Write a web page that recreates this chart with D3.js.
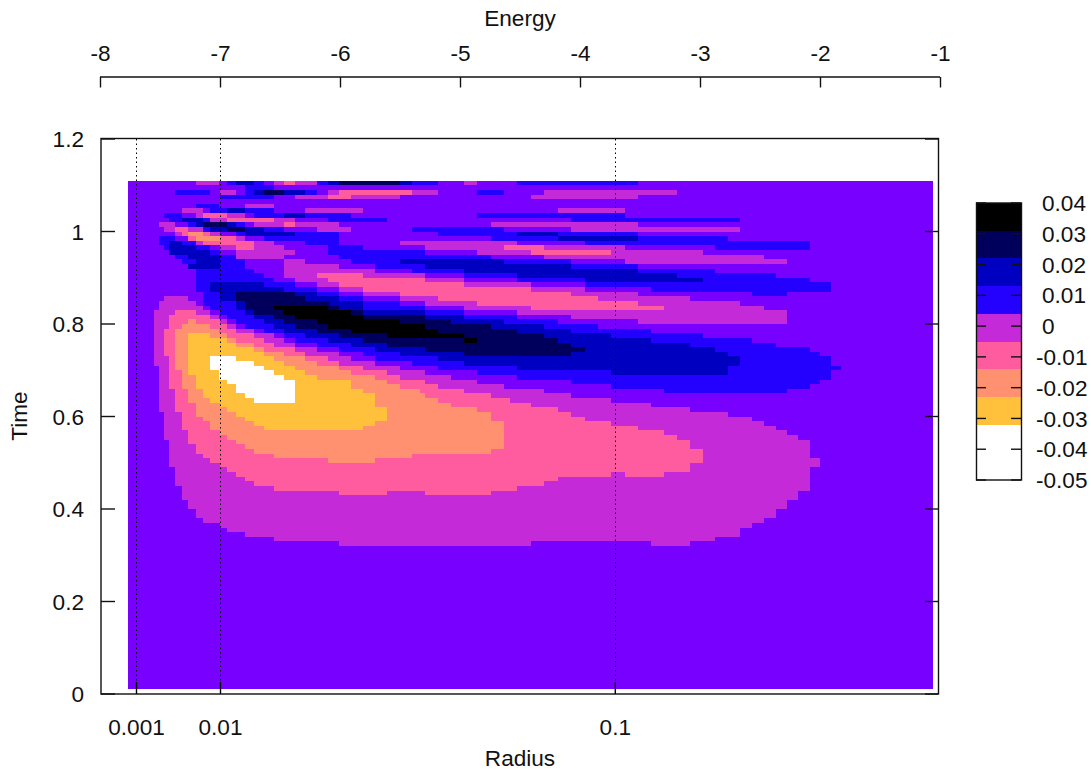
<!DOCTYPE html>
<html><head><meta charset="utf-8">
<script src="https://cdn.jsdelivr.net/npm/d3@7"></script>
<style>html,body{margin:0;background:#fff}svg{display:block}text{font-family:"Liberation Sans",Arial,sans-serif;font-size:22.6px;fill:#111}</style>
</head><body><svg id="c" width="1091" height="769"></svg>
<script>
// tick labels
const energyTicks = [-8,-7,-6,-5,-4,-3,-2,-1];
const timeTicks = [0,0.2,0.4,0.6,0.8,1,1.2];
const radiusLabels = ["0.001","0.01","0.1"];
const radiusEnergy = [-7.7,-7,-3.71];
const barTicks = [0.04,0.03,0.02,0.01,0,-0.01,-0.02,-0.03,-0.04,-0.05];
// colour levels: key, representative value, colour
const levelKeys = ["K","N","B","U","V","P","H","S","Y","W"];
const levelValues = [0.035,0.027,0.018,0.009,0.002,-0.004,-0.013,-0.022,-0.031,-0.04];
const levelColors = ["#000000","#00005c","#0000c0","#2400ff","#7800ff","#c42ad8","#ff5ca0","#ff9070","#ffc03c","#ffffff"];
const barColors = ["#000000","#00005c","#0000c0","#2400ff","#c42ad8","#ff5ca0","#ff9070","#ffc03c","#ffffff","#ffffff"];
// grid of the field
const timeTop = 1.11, timeStep = 0.01, rowCount = 110;
const energyStart = -8, binWidth = 1/120, lastBin = 833, firstBin = 28;
// one row per time step, top down: level key + last energy bin of that level; the rest of each row is V
const rowRuns = [
"V96 P119 V127 U136 B154 U164 V174 P184 H195 P217 U228 B239 N300 B312 U338 V364 P377 V417 U538",
"V145 U174",
"V75 U110 V120 P136 V145 U154 B164 N184 B205 U217 V228 P239 H312 P338 V377 U404 V444 P577",
"V120 U174 V195 P228 H251 P300 V431 P538",
"",
"V96 U119 V145 P174",
"V82 P103 V110 U127 B145 U174 V205 P263 V458 P525",
"V64 U82 V96 P103 H127 P145 V154 U184 B205 U251 V377 U525",
"V69 U82 B103 U110 P127 H174 P195 V228 U287 V471 U640",
"V59 P75 V88 U96 B103 N127 B136 U145 V154 P184 H195 P239 V391 P538",
"V64 P75 H88 P103 U110 B127 N145 B164 U184 V217 P251 V312 U404 V471 P640",
"V75 P82 H88 S103 H110 P120 V136 U145 B195 U239 V338 U417 B458 U538",
"V59 U75 V88 H96 S120 H136 P145 V164 U239 V391 U458 B538 U628",
"V59 U69 B82 U96 P103 H154 P174 V205 U239 V300 P417 V485 U710",
"V64 U69 B96 U110 V120 P136 H154 P184 V228 U263 V325 P404 H444 P525 V615 U710",
"V69 B110 U120 V136 P195 V228 U325 V377 P431 H511 P603",
"V75 U88 B120 U136 P184 V239 U391 V444 P664",
"V82 U96 B120 U145 V184 P205 V251 U300 B404 U471 V525 P687",
"V88 B120 U145 V184 P239 V275 U325 B471 U538",
"V96 U154 V184 P275 V312 U364 B538 U615",
"V96 U164 V184 P217 H263 P325 V364 U417 B577 U676",
"V96 U174 V195 P228 H325 P364 V417 U485 B603 U710",
"V96 U110 B164 U195 V217 P239 H364 P431 V485 U731",
"V96 U110 B184 U217 V239 P263 H431 P485 V551 U731",
"V103 U120 B136 N195 B217 U239 V263 P300 H471 P538 V652 U687",
"V64 P88 V103 U120 B136 N205 B239 U263 V300 P338 H498 P590",
"V59 P96 V103 U136 B145 N230 B263 U300 V325 P377 H538 P640",
"V59 P103 V110 U136 B145 N174 K228 N239 B263 U325 V364 P431 H564 P664",
"V54 P75 H96 P110 V120 U145 B154 N184 K251 N263 B325 U364 V417 P687",
"V54 P69 H110 P119 V127 U154 B174 N195 K263 N325 B364 U417 V471 P687",
"V54 P69 H88 S96 H120 P127 V136 U164 B184 N217 K300 N351 B404 U458 V538 P687",
"V54 P69 H82 S110 H127 P136 V145 U174 B195 N228 K325 N391 B444 U498",
"V54 P64 H75 S119 H136 P154 V164 U184 B217 N251 K338 N417 B471 U551",
"V54 P64 H75 S88 Y110 S127 H154 P174 V184 U205 B239 N287 K364 N444 B511 U603",
"V54 P64 H75 S88 Y127 S136 H164 P184 V195 U228 B263 N364 K377 N458 B551 U652",
"V54 P64 H75 S88 Y136 S154 H174 P195 V217 U251 B287 N471 B590 U676",
"V54 P64 H75 S88 Y154 S164 H195 P217 V239 U275 B325 N485 B615 U710",
"V54 P64 H75 S88 Y164 S184 H205 P239 V263 U300 B364 N471 B628 U720",
"V54 P69 H75 S88 Y110 W136 Y174 S205 H228 P251 V275 U338 B640 U731",
"V54 P69 H75 S88 Y110 W154 Y184 S217 H239 P275 V312 U364 B640 U731",
"V59 P69 H75 S88 Y110 W164 Y195 S239 H263 P300 V338 U417 B628 U741",
"V59 P69 H82 S88 Y119 W174 Y205 S251 H287 P325 V377 U511 B628 U731",
"V59 P69 H82 S96 Y119 W184 Y217 S275 H300 P351 V417 U731",
"V59 P69 H82 S96 Y127 W195 Y251 S287 H325 P377 V471 U720",
"V59 P69 H82 S96 Y136 W195 Y251 S300 H338 P404 V511 U710",
"V59 P75 H88 S103 Y136 W195 Y263 S320 H364 P444 V564 U687",
"V59 P75 H88 S103 Y145 W195 Y275 S325 H391 P471",
"V59 P75 H88 S110 Y154 W195 Y275 S338 H410 P511",
"V59 P75 H96 S120 Y275 S351 H431 P551",
"V59 P75 H96 S127 Y287 S377 H458 P590",
"V64 P82 H96 S136 Y287 S391 H471 P628",
"V64 P82 H103 S145 Y287 S391 H485 P652",
"V64 P82 H110 S154 Y275 S404 H511 P664",
"V64 P82 H110 S164 Y263 S404 H538 P676",
"V64 P88 H120 S404 H564 P687",
"V64 P88 H127 S404 H577 P698",
"V69 P88 H136 S404 H590 P710",
"V69 P96 H145 S404 H590 P710",
"V69 P96 H154 S391 H603 P710",
"V69 P103 H174 S312 H603 P710",
"V69 P110 H228 S275 H603 P720",
"V69 P120 H590 P720",
"V75 P127 H590 P710",
"V75 P136 H511 P525 H564 P710",
"V75 P145 H458 P710",
"V75 P154 H444 P710",
"V82 P174 H417 P710",
"V82 P239 H287 P325 H391 P698",
"V82 P698",
"V88 P687",
"V88 P687",
"V96 P676",
"V96 P676",
"V103 P664",
"V120 P652",
"V127 P640",
"V145 P640",
"V174 P615",
"V239 P431 V551 P590"
];

const svg = d3.select("#c");
const xScale = d3.scaleLinear().domain([-8,-1]).range([100,940]);
const yScale = d3.scaleLinear().domain([0,1.2]).range([694,139]);
const colorScale = d3.scaleOrdinal().domain(levelValues).range(levelColors);
const valueOf = new Map(levelKeys.map((k,i)=>[k,levelValues[i]]));
const energyOf = b => energyStart + b*binWidth;

// cells
const cells = [];
d3.range(rowCount).forEach(r=>{
  const t = timeTop - r*timeStep;
  let from = firstBin;
  const runs = (rowRuns[r]||"").split(" ").filter(Boolean).map(s=>[s[0],+s.slice(1)]);
  runs.push(["V",lastBin]);
  runs.forEach(([k,to])=>{
    if(to>from){cells.push({t,e0:energyOf(from),e1:energyOf(to),v:valueOf.get(k)});from=to;}
  });
});
svg.append("g").attr("shape-rendering","crispEdges").selectAll("rect").data(cells).join("rect")
  .attr("x",d=>xScale(d.e0)).attr("width",d=>xScale(d.e1)-xScale(d.e0))
  .attr("y",d=>yScale(d.t)).attr("height",d=>yScale(d.t-timeStep)-yScale(d.t))
  .attr("fill",d=>colorScale(d.v));

// dotted grid at radius ticks
const frameG = svg.append("g");
frameG.selectAll("line.grid").data(radiusEnergy).join("line")
  .attr("x1",d=>Math.round(xScale(d))+.5).attr("x2",d=>Math.round(xScale(d))+.5).attr("y1",139).attr("y2",682)
  .attr("stroke","#000").attr("stroke-width",1).attr("stroke-dasharray","1.5,3");

// box
frameG.append("rect").attr("x",101).attr("y",138.5).attr("width",837.5).attr("height",555.5)
  .attr("fill","none").attr("stroke","#111").attr("stroke-width",1.4);

// bottom radius axis
const bottomAxis = d3.axisBottom(xScale)
  .tickValues(radiusEnergy).tickSize(-12).tickPadding(0).tickFormat((d,i)=>radiusLabels[i]);
const gb = svg.append("g").attr("transform","translate(0,694)").call(bottomAxis);
gb.select(".domain").remove();
gb.selectAll("line").attr("stroke","#000").attr("stroke-width",1.4);
gb.selectAll("text").attr("y",33).attr("dy",".35em");

// top energy axis
const topAxis = d3.axisTop(xScale).tickValues(energyTicks).tickSize(-10.5).tickPadding(0).tickFormat(d=>String(d));
const gt = svg.append("g").attr("transform","translate(0,77)").call(topAxis);
gt.select(".domain").attr("d","M100,0H940").attr("stroke","#111").attr("stroke-width",1.4);
gt.selectAll("line").attr("stroke","#111").attr("stroke-width",1.4);
gt.selectAll("text").attr("y",-24).attr("dy",".35em");
svg.selectAll(".tick text").style("font-size","22.6px").style("font-family","'Liberation Sans'").attr("fill","#111");

// y axis, both sides
const ly = svg.append("g").selectAll("g").data(timeTicks).join("g");
ly.append("line").attr("x1",101).attr("x2",115).attr("y1",d=>yScale(d)).attr("y2",d=>yScale(d)).attr("stroke","#111").attr("stroke-width",1.4);
ly.append("line").attr("x1",925).attr("x2",938).attr("y1",d=>yScale(d)).attr("y2",d=>yScale(d)).attr("stroke","#111").attr("stroke-width",1.4);
ly.append("text").attr("x",84).attr("y",d=>yScale(d)).attr("dy",".36em").attr("text-anchor","end").text(d=>d);

// axis titles
svg.append("text").attr("x",520).attr("y",18).attr("dy",".35em").attr("text-anchor","middle").text("Energy");
svg.append("text").attr("x",520).attr("y",758).attr("dy",".35em").attr("text-anchor","middle").text("Radius");
svg.append("text").attr("transform","translate(19,416) rotate(-90)").attr("dy",".35em").attr("text-anchor","middle").text("Time");

// colour bar
const cy = d3.scaleLinear().domain([-0.05,0.04]).range([480,203]);
const bandStep = (0.04-(-0.05))/barColors.length;
const cb = svg.append("g");
cb.append("g").attr("shape-rendering","crispEdges").selectAll("rect").data(barColors).join("rect")
  .attr("x",976).attr("width",46)
  .attr("y",(d,i)=>cy(0.04-i*bandStep)).attr("height",(d,i)=>cy(0.04-(i+1)*bandStep)-cy(0.04-i*bandStep))
  .attr("fill",d=>d);
cb.append("rect").attr("x",976.5).attr("y",203).attr("width",45).attr("height",277).attr("fill","none").attr("stroke","#111").attr("stroke-width",1.4);
const ct = cb.selectAll("g.t").data(barTicks).join("g");
ct.append("line").attr("x1",976).attr("x2",986).attr("y1",d=>cy(d)).attr("y2",d=>cy(d)).attr("stroke","#111").attr("stroke-width",1.4);
ct.append("line").attr("x1",1011).attr("x2",1021).attr("y1",d=>cy(d)).attr("y2",d=>cy(d)).attr("stroke","#111").attr("stroke-width",1.4);
ct.append("text").attr("x",d=>d<0?1036:1042).attr("y",d=>cy(d)).attr("dy",".36em").text(d=>d);
</script></body></html>
